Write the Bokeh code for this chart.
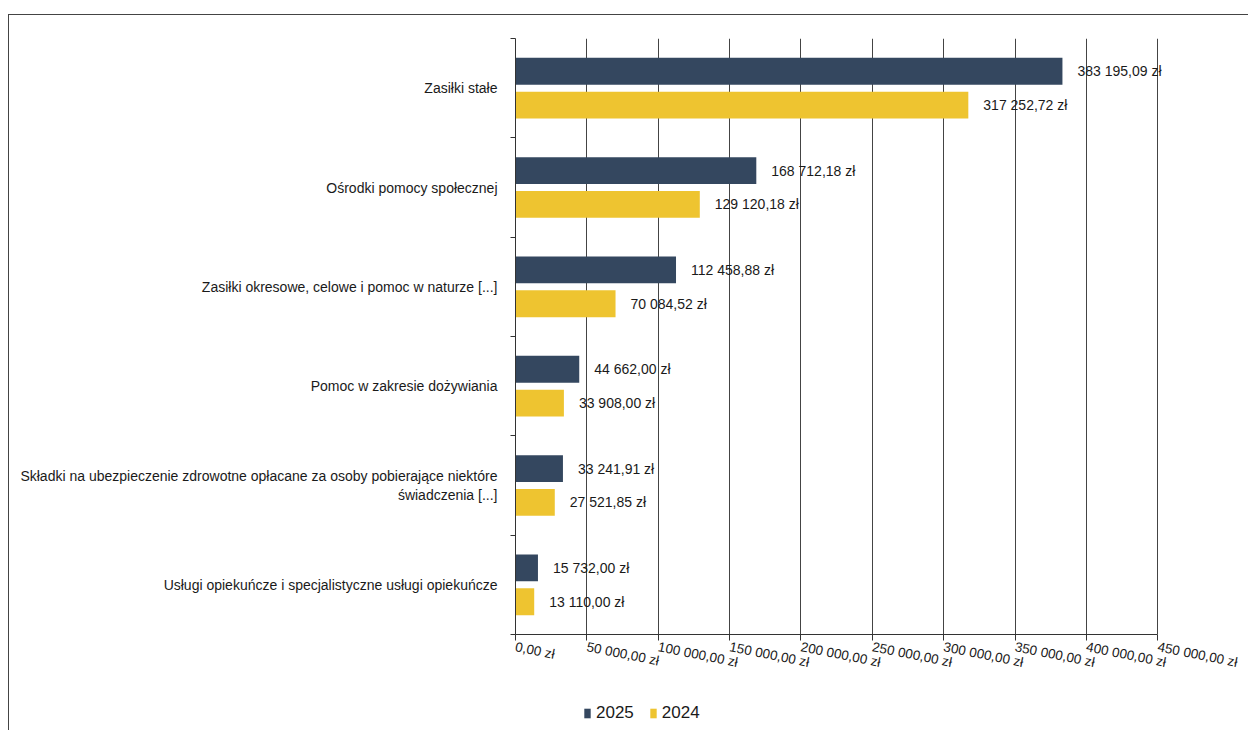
from bokeh.plotting import figure
from bokeh.layouts import column
from bokeh.models import (Range1d, LinearAxis, FixedTicker, ColumnDataSource, Legend, LegendItem, LabelSet)
from bokeh.core.properties import value
from bokeh.transform import dodge
from bokeh.embed import file_html
from bokeh.resources import INLINE

categories = [
    "Zasiłki stałe",
    "Ośrodki pomocy społecznej",
    "Zasiłki okresowe, celowe i pomoc w naturze [...]",
    "Pomoc w zakresie dożywiania",
    "Składki na ubezpieczenie zdrowotne opłacane za osoby pobierające niektóre\nświadczenia [...]",
    "Usługi opiekuńcze i specjalistyczne usługi opiekuńcze",
]
values_2025 = [383195.09, 168712.18, 112458.88, 44662.00, 33241.91, 15732.00]
values_2024 = [317252.72, 129120.18, 70084.52, 33908.00, 27521.85, 13110.00]
x_ticks = [0, 50000, 100000, 150000, 200000, 250000, 300000, 350000, 400000, 450000]
x_tick_labels = ["0,00 zł", "50 000,00 zł", "100 000,00 zł", "150 000,00 zł", "200 000,00 zł",
                 "250 000,00 zł", "300 000,00 zł", "350 000,00 zł", "400 000,00 zł", "450 000,00 zł"]
series_names = ["2025", "2024"]

C25 = "#34475f"
C24 = "#eec430"
FONT = "Liberation Sans"
TXT = "#1a1a1a"
BORDER = "1.5px solid #444"

n = len(categories)
ypos = [n - i - 0.5 for i in range(n)]  # first category at the top


def fmt(v):
    s = f"{v:,.2f}".replace(",", " ").replace(".", ",")
    return s + " zł"


src = ColumnDataSource(data=dict(
    y=ypos,
    v25=values_2025,
    v24=values_2024,
    l25=[fmt(v) for v in values_2025],
    l24=[fmt(v) for v in values_2024],
))

XMAX = x_ticks[-1]
XEXT = XMAX * 1.012   # a little room so the last value label is not clipped

p = figure(width=1240, height=682, output_backend="svg", toolbar_location=None,
           x_range=Range1d(0, XEXT), y_range=Range1d(0, n),
           y_axis_location=None, x_axis_location=None,
           min_border_left=506, min_border_right=84, min_border_top=23, min_border_bottom=63)
p.styles = {"border-top": BORDER, "border-left": BORDER}
p.outline_line_color = None
p.background_fill_color = "white"
p.border_fill_color = "white"

ya = LinearAxis(ticker=FixedTicker(ticks=ypos, minor_ticks=list(range(n + 1))))
ya.major_label_overrides = {y: c for y, c in zip(ypos, categories)}
ya.major_tick_line_color = None
ya.minor_tick_out = 5
ya.minor_tick_in = 0
ya.minor_tick_line_color = "#333"
ya.axis_line_color = "#333"
ya.major_label_standoff = 12
ya.major_label_text_font = FONT
ya.major_label_text_font_size = "14px"
ya.major_label_text_color = TXT
p.add_layout(ya, "left")

xa = LinearAxis(ticker=FixedTicker(ticks=x_ticks), bounds=(0, XMAX))
xa.major_label_overrides = {t: l for t, l in zip(x_ticks, x_tick_labels)}
xa.major_label_orientation = -0.2
xa.major_label_text_font = FONT
xa.major_label_text_font_size = "13.5px"
xa.major_label_text_color = TXT
xa.major_tick_out = 6
xa.major_tick_in = 0
xa.minor_tick_line_color = None
xa.axis_line_color = "#333"
xa.major_tick_line_color = "#333"
xa.major_label_standoff = 6
p.add_layout(xa, "below")

p.xgrid.ticker = FixedTicker(ticks=x_ticks)
p.xgrid.grid_line_color = "#444"
p.xgrid.grid_line_width = 1
p.ygrid.grid_line_color = None

r25 = p.hbar(y=dodge("y", 0.17), right="v25", left=0, height=0.27,
             source=src, fill_color=C25, line_color=None)
r24 = p.hbar(y=dodge("y", -0.17), right="v24", left=0, height=0.27,
             source=src, fill_color=C24, line_color=None)

for col, lab, off in (("v25", "l25", 0.17), ("v24", "l24", -0.17)):
    ls = LabelSet(x=col, y=dodge("y", off), text=lab, source=src,
                  x_offset=15, y_offset=0, text_baseline="middle",
                  text_font=value(FONT), text_font_size=value("14px"), text_color=TXT)
    p.add_layout(ls)

# legend strip below the chart (narrow figure, shifted right); its bars lie outside its view
lg = figure(width=150, height=34, output_backend="svg", toolbar_location=None,
            x_range=Range1d(-2 * XMAX, -XMAX), y_range=Range1d(-20, -19),
            x_axis_location=None, y_axis_location=None,
            min_border_left=0, min_border_right=0, min_border_top=0, min_border_bottom=0)
lg.outline_line_color = None
lg.xgrid.visible = False
lg.ygrid.visible = False
d25 = lg.hbar(y="y", right="v25", left=0, height=0.27, source=src, fill_color=C25, line_color=None)
d24 = lg.hbar(y="y", right="v24", left=0, height=0.27, source=src, fill_color=C24, line_color=None)

legend = Legend(items=[LegendItem(label=series_names[0], renderers=[d25]),
                       LegendItem(label=series_names[1], renderers=[d24])],
                location="center_left", orientation="horizontal")
legend.glyph_width = 8
legend.glyph_height = 12
legend.label_text_font = FONT
legend.label_text_font_size = "17px"
legend.label_text_color = TXT
legend.label_standoff = 5
legend.spacing = 15
legend.padding = 0
legend.margin = 0
legend.border_line_color = None
legend.background_fill_alpha = 0
lg.add_layout(legend, "center")
lg.margin = (0, 0, 0, 574)

spacer_border = column(lg, spacing=0)
spacer_border.styles = {"border-left": BORDER}
spacer_border.margin = (0, 0, 0, 0)

layout = column(p, spacer_border, spacing=0)
layout.margin = (14, 0, 0, 8)

open("out.html", "w").write(file_html(layout, INLINE))
